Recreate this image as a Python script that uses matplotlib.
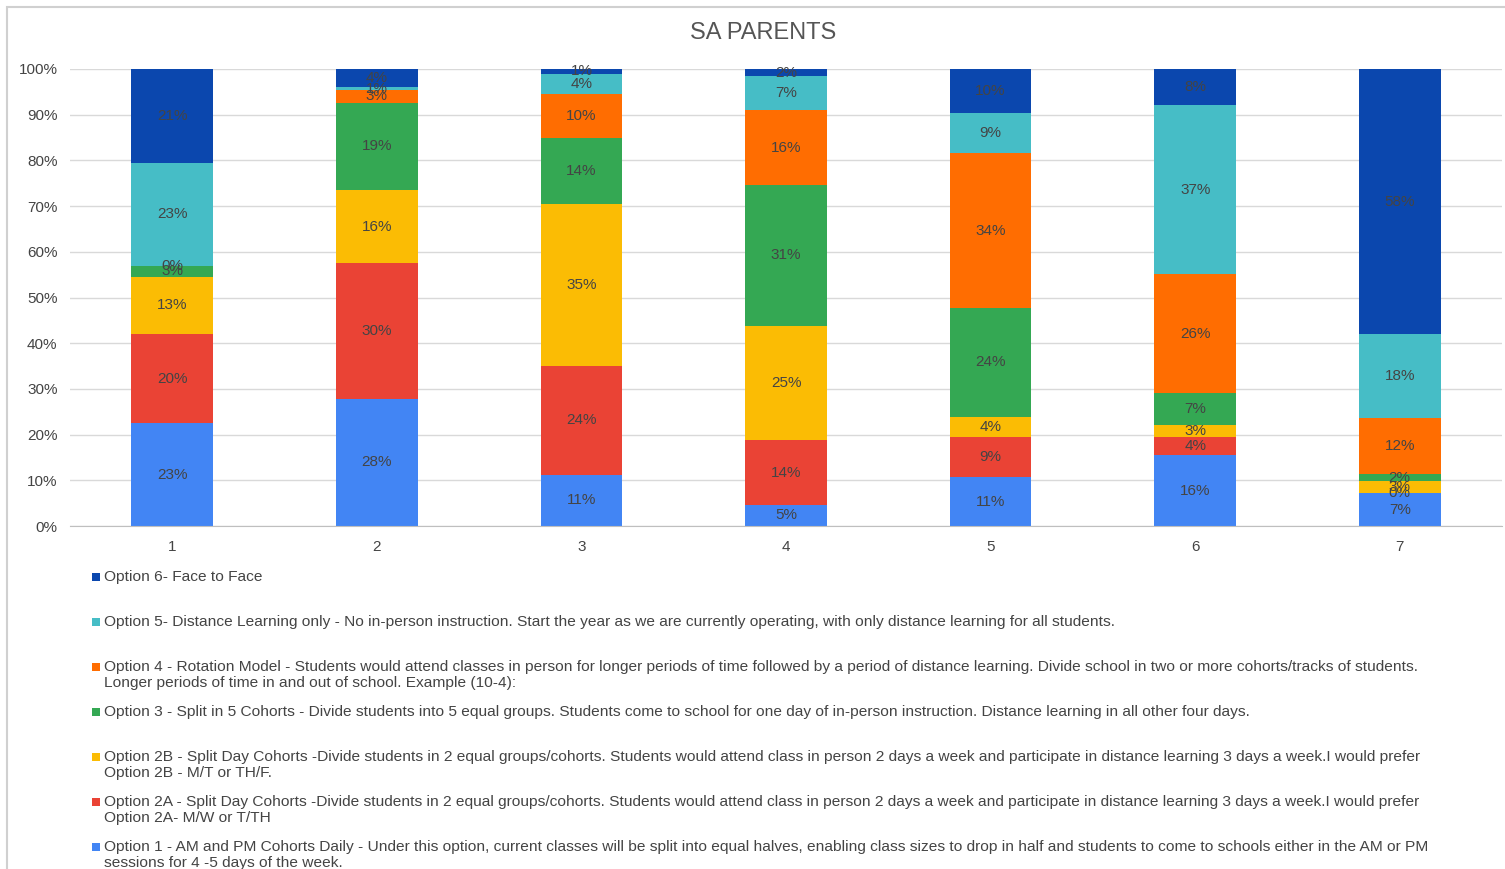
import matplotlib
matplotlib.use("Agg")
import matplotlib.pyplot as plt
from matplotlib.patches import Rectangle
import numpy as np

plt.rcParams["font.family"] = ["Liberation Sans", "DejaVu Sans"]

categories = ["1", "2", "3", "4", "5", "6", "7"]

opt1 = [22.5, 27.8, 11.2, 4.6, 10.7, 15.5, 7.2]
opt2a = [19.5, 29.7, 23.8, 14.2, 8.8, 4.0, 0.0]
opt2b = [12.5, 16.0, 35.4, 25.0, 4.4, 2.6, 2.6]
opt3 = [2.5, 19.1, 14.4, 30.8, 23.8, 7.0, 1.6]
opt4 = [0.0, 2.8, 9.8, 16.4, 33.9, 26.0, 12.2]
opt5 = [22.5, 0.6, 4.4, 7.4, 8.8, 37.0, 18.4]
opt6 = [20.5, 4.0, 1.0, 1.6, 9.6, 7.9, 58.0]

series_names = [
    "Option 1 - AM and PM Cohorts Daily - Under this option, current classes will be split into equal halves, enabling class sizes to drop in half and students to come to schools either in the AM or PM\nsessions for 4 -5 days of the week.",
    "Option 2A - Split Day Cohorts -Divide students in 2 equal groups/cohorts. Students would attend class in person 2 days a week and participate in distance learning 3 days a week.I would prefer\nOption 2A- M/W or T/TH",
    "Option 2B - Split Day Cohorts -Divide students in 2 equal groups/cohorts. Students would attend class in person 2 days a week and participate in distance learning 3 days a week.I would prefer\nOption 2B - M/T or TH/F.",
    "Option 3 - Split in 5 Cohorts - Divide students into 5 equal groups. Students come to school for one day of in-person instruction. Distance learning in all other four days.",
    "Option 4 - Rotation Model - Students would attend classes in person for longer periods of time followed by a period of distance learning. Divide school in two or more cohorts/tracks of students.\nLonger periods of time in and out of school. Example (10-4):",
    "Option 5- Distance Learning only - No in-person instruction. Start the year as we are currently operating, with only distance learning for all students.",
    "Option 6- Face to Face",
]
colors = ["#4285F4", "#EA4335", "#FBBC04", "#34A853", "#FF6D01", "#46BDC6", "#0B47AE"]

series = [opt1, opt2a, opt2b, opt3, opt4, opt5, opt6]

fig = plt.figure(figsize=(15.05, 8.69), dpi=100)
ax = fig.add_axes([70 / 1505, 343 / 869, 1432 / 1505, 457 / 869])

x = np.arange(len(categories))
bottom = np.zeros(len(categories))
for vals, color in zip(series, colors):
    vals = np.array(vals)
    ax.bar(x, vals, bottom=bottom, width=0.4, color=color, zorder=2)
    for xi, b, v in zip(x, bottom, vals):
        ax.text(xi, b + v / 2, f"{int(np.floor(v + 0.5))}%", ha="center", va="center",
                fontsize=11, color="#444444", zorder=3)
    bottom += vals

ax.set_xlim(-0.5, len(categories) - 0.5)
ax.set_ylim(0, 100)
ax.set_yticks(np.arange(0, 101, 10))
ax.set_yticklabels([f"{t}%" for t in range(0, 101, 10)])
ax.set_xticks(x)
ax.set_xticklabels(categories)
ax.grid(axis="y", color="#d9d9d9", linewidth=1, zorder=0)
for s in ["top", "right", "left"]:
    ax.spines[s].set_visible(False)
ax.spines["bottom"].set_color("#bfbfbf")
ax.tick_params(axis="both", length=0, labelsize=11, labelcolor="#444444")
ax.tick_params(axis="y", pad=9)
ax.tick_params(axis="x", pad=10)

fig.text(763 / 1505, 1 - 33 / 869, "SA PARENTS", ha="center", va="center",
         fontsize=17, color="#555555")

# legend, listed top to bottom from Option 6 down to Option 1
for i, (name, color) in enumerate(zip(series_names[::-1], colors[::-1])):
    ytop = 577 + 45 * i
    fig.patches.append(Rectangle((92 / 1505, 1 - (ytop + 4) / 869), 8 / 1505, 8 / 869,
                                 transform=fig.transFigure, facecolor=color,
                                 edgecolor="none"))
    fig.text(104 / 1505, 1 - (ytop - 7) / 869, name, ha="left", va="top",
             fontsize=11.15, color="#444444", linespacing=1.2)

# chart border (cut off on right and bottom)
fig.patches.append(Rectangle((7 / 1505, -0.1), 1.2, 1 - 7 / 869 + 0.1,
                             transform=fig.transFigure, facecolor="none",
                             edgecolor="#d0d0d0", linewidth=1.5))

fig.savefig("out.png", dpi=100)
